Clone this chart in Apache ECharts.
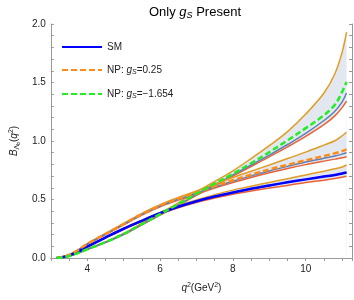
<!DOCTYPE html>
<html>
<head>
<meta charset="utf-8">
<script src="https://cdn.jsdelivr.net/npm/echarts@6/dist/echarts.min.js"></script>
<style>html,body{margin:0;padding:0;background:#fff;}#c{width:354px;height:300px;}</style>
</head>
<body>
<div id="c"></div>
<script>
// q^2 grid (GeV^2)
const q2 = [3.157, 3.3, 3.5, 3.75, 4, 4.5, 5, 5.5, 6, 6.5, 7, 7.5, 8, 8.5, 9, 9.5, 10, 10.5, 10.8, 11, 11.12];

// SM
const smLine    = [0, 0.006, 0.022, 0.055, 0.097, 0.175, 0.25, 0.318, 0.383, 0.438, 0.485, 0.525, 0.56, 0.592, 0.62, 0.647, 0.672, 0.696, 0.71, 0.722, 0.73];
const smUpper   = [0, 0.006, 0.023, 0.057, 0.1, 0.179, 0.255, 0.324, 0.39, 0.447, 0.497, 0.54, 0.58, 0.614, 0.646, 0.678, 0.71, 0.742, 0.762, 0.778, 0.795];
const smLower   = [0, 0.006, 0.021, 0.053, 0.094, 0.171, 0.245, 0.312, 0.376, 0.43, 0.475, 0.512, 0.545, 0.573, 0.598, 0.62, 0.645, 0.665, 0.68, 0.69, 0.698];

// NP: gS = 0.25
const np1Line   = [0, 0.008, 0.027, 0.068, 0.12, 0.205, 0.29, 0.375, 0.448, 0.507, 0.56, 0.615, 0.665, 0.713, 0.757, 0.797, 0.835, 0.872, 0.895, 0.913, 0.928];
const np1Upper  = [0, 0.008, 0.028, 0.07, 0.123, 0.21, 0.296, 0.382, 0.456, 0.517, 0.573, 0.632, 0.688, 0.742, 0.795, 0.85, 0.905, 0.965, 1.002, 1.045, 1.075];
const np1Center = [0, 0.008, 0.027, 0.067, 0.119, 0.203, 0.287, 0.371, 0.443, 0.502, 0.554, 0.607, 0.656, 0.702, 0.744, 0.783, 0.82, 0.852, 0.872, 0.888, 0.90];
const np1Lower  = [0, 0.008, 0.026, 0.066, 0.117, 0.2, 0.283, 0.366, 0.437, 0.495, 0.546, 0.597, 0.644, 0.688, 0.728, 0.765, 0.798, 0.828, 0.845, 0.857, 0.866];

// NP: gS = -1.654
const np2Line   = [0, 0.004, 0.016, 0.042, 0.075, 0.135, 0.205, 0.29, 0.375, 0.46, 0.55, 0.635, 0.72, 0.81, 0.905, 1.005, 1.11, 1.22, 1.31, 1.42, 1.505];
const np2Upper  = [0, 0.004, 0.016, 0.043, 0.077, 0.138, 0.21, 0.297, 0.384, 0.472, 0.565, 0.655, 0.745, 0.85, 0.96, 1.08, 1.23, 1.41, 1.575, 1.76, 1.93];
const np2Center = [0, 0.004, 0.016, 0.042, 0.075, 0.134, 0.203, 0.287, 0.371, 0.455, 0.543, 0.627, 0.71, 0.795, 0.88, 0.97, 1.065, 1.175, 1.255, 1.335, 1.41];
const np2Lower  = [0, 0.004, 0.015, 0.041, 0.073, 0.132, 0.2, 0.283, 0.366, 0.449, 0.536, 0.618, 0.70, 0.782, 0.865, 0.95, 1.04, 1.14, 1.215, 1.285, 1.34];

const xTickLabels = [4, 6, 8, 10];
const yTickLabels = [0.0, 0.5, 1.0, 1.5, 2.0];

const pts = arr => arr.map((v, i) => [q2[i], v]);

const C_UP = '#E19C24', C_LO = '#EB6235', C_MID = '#5E81B5', C_FILL = '#E2E7F0';
const SM = 0.35;

// fill between lower and upper: upper area filled, lower area covered in white
function bandFill(up, lo) {
  return [
    {type: 'line', data: pts(up), symbol: 'none', smooth: SM, silent: true,
     lineStyle: {width: 0, opacity: 0}, areaStyle: {color: C_FILL, opacity: 1, origin: 'start'}, z: 1},
    {type: 'line', data: pts(lo), symbol: 'none', smooth: SM, silent: true,
     lineStyle: {width: 0, opacity: 0}, areaStyle: {color: '#ffffff', opacity: 1, origin: 'start'}, z: 1}
  ];
}
function bandLines(up, mid, lo) {
  return [
    {type: 'line', data: pts(up), symbol: 'none', smooth: SM, silent: true, lineStyle: {color: C_UP, width: 1.5}, z: 2},
    {type: 'line', data: pts(lo), symbol: 'none', smooth: SM, silent: true, lineStyle: {color: C_LO, width: 1.5}, z: 2},
    {type: 'line', data: pts(mid), symbol: 'none', smooth: SM, silent: true, lineStyle: {color: C_MID, width: 1.5}, z: 2}
  ];
}

const F = 'Liberation Sans, Arial, sans-serif';
const rich = {
  i: {fontStyle: 'italic', fontSize: 10, fontFamily: F, color: '#222'},
  sub: {fontStyle: 'italic', fontSize: 7, fontFamily: F, color: '#222', padding: [5, 0, 0, 0]},
  n: {fontSize: 10, fontFamily: F, color: '#222'}
};

const chart = echarts.init(document.getElementById('c'), null, {renderer: 'canvas'});
const series = [].concat(
  bandFill(np2Upper, np2Lower),
  bandFill(np1Upper, np1Lower),
  bandFill(smUpper, smLower),
  bandLines(np2Upper, np2Center, np2Lower),
  bandLines(np1Upper, np1Center, np1Lower),
  bandLines(smUpper, smLine, smLower),
  [
    {name: 'SM', type: 'line', data: pts(smLine), symbol: 'none', smooth: SM, lineStyle: {color: '#0000FF', width: 2.5}, itemStyle: {color: '#0000FF'}, z: 5},
    {name: 'NP1', type: 'line', data: pts(np1Line), symbol: 'none', smooth: SM, lineStyle: {color: '#FF8C1A', width: 2.5, type: [6, 3]}, itemStyle: {color: '#FF8C1A'}, z: 5},
    {name: 'NP2', type: 'line', data: pts(np2Line), symbol: 'none', smooth: SM, lineStyle: {color: '#22EE22', width: 2.5, type: [6, 3]}, itemStyle: {color: '#22EE22'}, z: 6}
  ]
);

const axisCommon = {
  type: 'value', min: 3, max: 11.27, interval: 0.5,
  axisLine: {show: true, lineStyle: {color: '#999', width: 1}},
  axisTick: {show: true, inside: true, length: 3, lineStyle: {color: '#999'}},
  splitLine: {show: false}
};

chart.setOption({
  animation: false,
  backgroundColor: '#fff',
  grid: {left: 38, right: 2, top: 24, bottom: 42},
  graphic: [
    {type: 'text', x: 195, y: 5, z: 10,
     style: {text: '{n|Only }{i|g}{sub|S}{n| Present}', textAlign: 'center',
       rich: {n: {fontSize: 13, fontFamily: F, color: '#222'},
              i: {fontSize: 13, fontStyle: 'italic', fontFamily: F, color: '#222'},
              sub: {fontSize: 9, fontStyle: 'italic', fontFamily: F, color: '#222', padding: [6, 0, 0, 0]}}}}
  ],
  legend: {
    data: ['SM', 'NP1', 'NP2'], orient: 'vertical', left: 56, top: 37,
    itemWidth: 40, itemHeight: 10, itemGap: 13,
    itemStyle: {opacity: 0},
    textStyle: {fontSize: 10, fontFamily: F, color: '#222', rich: rich},
    formatter: function (n) {
      if (n === 'SM') return '{n|SM}';
      if (n === 'NP1') return '{n|NP: }{i|g}{sub|S}{n|=0.25}';
      return '{n|NP: }{i|g}{sub|S}{n|=−1.654}';
    }
  },
  xAxis: [
    Object.assign({}, axisCommon, {
      position: 'bottom',
      name: '{i|q}{sup|2}{n|(GeV}{sup|2}{n|)}', nameLocation: 'middle', nameGap: 24,
      nameTextStyle: {rich: {
        i: {fontStyle: 'italic', fontSize: 10, fontFamily: F, color: '#222'},
        n: {fontSize: 10, fontFamily: F, color: '#222'},
        sup: {fontSize: 7, fontFamily: F, color: '#222', padding: [0, 0, 6, 0]}}},
      axisLabel: {fontSize: 10, fontFamily: F, color: '#222', margin: 6, showMinLabel: false, showMaxLabel: false,
        formatter: v => (xTickLabels.indexOf(Math.round(v * 100) / 100) >= 0 ? String(v) : '')}
    }),
    Object.assign({}, axisCommon, {position: 'top', axisLabel: {show: false}})
  ],
  yAxis: [
    {type: 'value', min: 0, max: 2, interval: 0.1, position: 'left',
     axisLine: {show: true, lineStyle: {color: '#999'}},
     axisTick: {show: true, inside: true, length: 3, lineStyle: {color: '#999'}},
     splitLine: {show: false},
     name: '{i|B}{sub|Λ}{subsub|b}{n|(}{i|q}{sup|2}{n|)}', nameLocation: 'middle', nameGap: 24,
     nameTextStyle: {rich: {
        i: {fontStyle: 'italic', fontSize: 10, fontFamily: F, color: '#222'},
        n: {fontSize: 10, fontFamily: F, color: '#222'},
        sub: {fontSize: 7, fontFamily: F, color: '#222', padding: [5, 0, 0, 0]},
        subsub: {fontSize: 5, fontFamily: F, color: '#222', padding: [8, 0, 0, 0]},
        sup: {fontSize: 7, fontFamily: F, color: '#222', padding: [0, 0, 6, 0]}}},
     axisLabel: {fontSize: 10, fontFamily: F, color: '#222', margin: 5,
       formatter: v => (yTickLabels.some(t => Math.abs(t - v) < 1e-6) ? v.toFixed(1) : '')}},
    {type: 'value', min: 0, max: 2, interval: 0.1, position: 'right',
     axisLine: {show: true, lineStyle: {color: '#999'}},
     axisTick: {show: true, inside: true, length: 3, lineStyle: {color: '#999'}},
     splitLine: {show: false}, axisLabel: {show: false}}
  ],
  series: series
});
</script>
</body>
</html>
